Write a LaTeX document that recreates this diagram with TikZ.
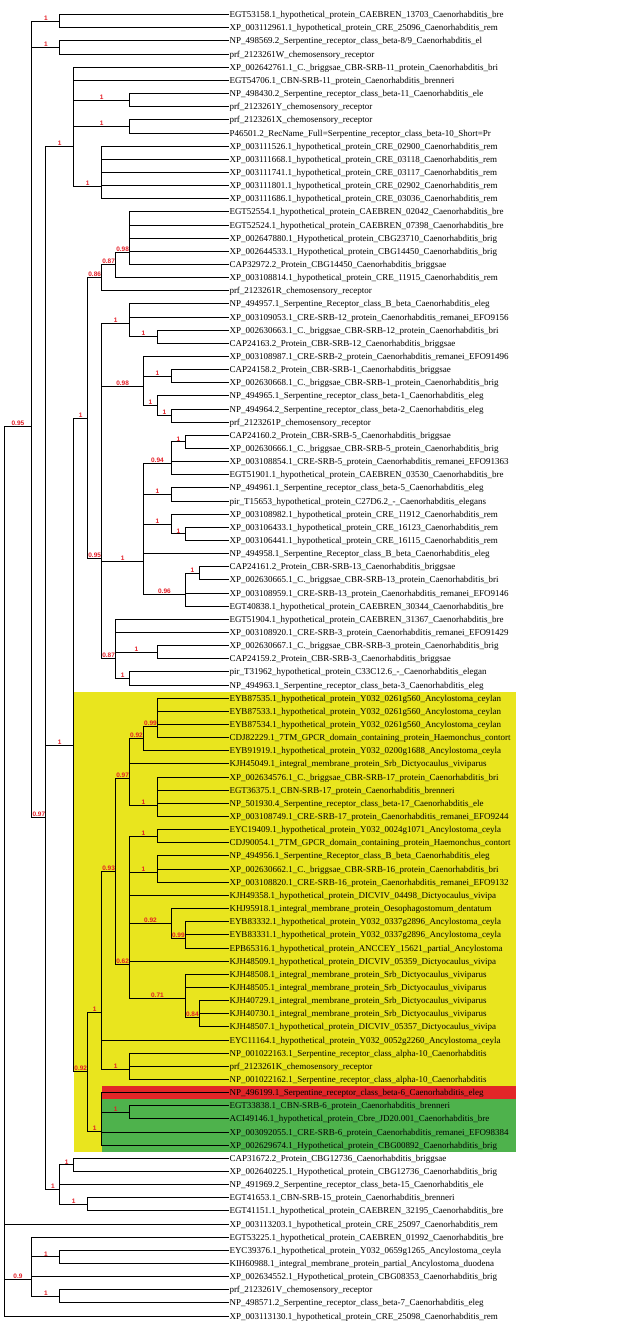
\documentclass[tikz,border=0pt]{standalone}
\usepackage{fontspec}
\setmainfont{Liberation Serif}
\newfontfamily\bsfont{Liberation Sans}
\usepackage{xcolor}
\usepackage{tikz}
\usetikzlibrary{positioning,calc}
\definecolor{bsred}{RGB}{228,30,38}
\definecolor{hlyellow}{RGB}{233,229,30}
\definecolor{hlred}{RGB}{226,38,40}
\definecolor{hlgreen}{RGB}{78,178,76}

\begin{document}
\begin{tikzpicture}[x=1pt,y=-1pt,
    br/.style={line width=1pt, line cap=rect},
    leaf/.style={anchor=west, inner xsep=0.5pt, inner ysep=0pt, text height=6pt, text depth=0pt, font=\fontsize{9}{9}\selectfont},
    bs/.style={pos=0.75, anchor=south, inner sep=0.4pt, text=bsred, font=\bsfont\bfseries\fontsize{6.5}{6.5}\selectfont}]
    \useasboundingbox (0,0) rectangle (617,1334);

    % highlighted clades
    \fill[hlyellow] (73.75,691.7) rectangle (516,1151.7);
    \fill[hlred] (101.65,1086.0) rectangle (516,1099.2);
    \fill[hlgreen] (101.65,1099.2) rectangle (516,1151.7);

    % inner nodes
    \coordinate (root) at (4,1184.06);
    \coordinate (n095) at (31.9,426.04);
    \coordinate (n09) at (31.9,1279.09);
    \coordinate (n097) at (45.85,817.66);
    \coordinate (n12) at (59.8,21.28);
    \coordinate (n34) at (59.8,47.57);
    \coordinate (n8892) at (59.8,1189.54);
    \coordinate (n9596) at (59.8,1256.90);
    \coordinate (n9899) at (59.8,1296.34);
    \coordinate (n515) at (73.75,146.57);
    \coordinate (nB) at (73.75,745.01);
    \coordinate (n8889) at (73.75,1164.89);
    \coordinate (n188) at (87.7,418.11);
    \coordinate (n092c) at (87.7,1071.92);
    \coordinate (n9192) at (87.7,1204.33);
    \coordinate (n1115) at (101.65,186.41);
    \coordinate (n086) at (101.65,277.81);
    \coordinate (n095b) at (101.65,558.40);
    \coordinate (n1102) at (101.65,1012.63);
    \coordinate (nsrb6) at (101.65,1131.20);
    \coordinate (n087) at (115.6,264.87);
    \coordinate (n087b) at (115.6,658.81);
    \coordinate (n093) at (115.6,871.33);
    \coordinate (n78) at (129.55,100.15);
    \coordinate (n910) at (129.55,126.44);
    \coordinate (n098) at (129.55,252.14);
    \coordinate (n2326) at (129.55,323.61);
    \coordinate (n5152) at (129.55,678.53);
    \coordinate (n097b) at (129.55,778.14);
    \coordinate (n062) at (129.55,964.53);
    \coordinate (n8082) at (129.55,1069.59);
    \coordinate (n8485) at (129.55,1112.31);
    \coordinate (n098c) at (143.5,386.05);
    \coordinate (n142) at (143.5,561.15);
    \coordinate (n092) at (143.5,738.50);
    \coordinate (n2526) at (157.45,336.76);
    \coordinate (n3032) at (157.45,405.77);
    \coordinate (n4950) at (157.45,652.24);
    \coordinate (n099) at (157.45,726.18);
    \coordinate (nsrb17) at (157.45,805.05);
    \coordinate (n6364) at (157.45,836.27);
    \coordinate (n6567) at (157.45,872.41);
    \coordinate (n2829) at (171.4,376.19);
    \coordinate (n3132) at (171.4,415.63);
    \coordinate (n094) at (171.4,463.28);
    \coordinate (n3738) at (171.4,494.50);
    \coordinate (n3941) at (171.4,524.07);
    \coordinate (n092b) at (171.4,923.35);
    \coordinate (n3334) at (185.35,441.92);
    \coordinate (n4041) at (185.35,533.93);
    \coordinate (n096) at (185.35,594.73);
    \coordinate (n099b) at (185.35,938.14);
    \coordinate (n071) at (185.35,998.94);
    \coordinate (n4344) at (199.3,573.37);
    \coordinate (n084) at (199.3,1017.01);

    % leaves
    \node[leaf] (l1) at (228.8,14.70) {EGT53158.1\_hypothetical\_protein\_CAEBREN\_13703\_Caenorhabditis\_bre};
    \node[leaf] (l2) at (228.8,27.85) {XP\_003112961.1\_hypothetical\_protein\_CRE\_25096\_Caenorhabditis\_rem};
    \node[leaf] (l3) at (228.8,40.99) {NP\_498569.2\_Serpentine\_receptor\_class\_beta-8/9\_Caenorhabditis\_el};
    \node[leaf] (l4) at (228.8,54.14) {prf\_2123261W\_chemosensory\_receptor};
    \node[leaf] (l5) at (228.8,67.28) {XP\_002642761.1\_C.\_briggsae\_CBR-SRB-11\_protein\_Caenorhabditis\_bri};
    \node[leaf] (l6) at (228.8,80.43) {EGT54706.1\_CBN-SRB-11\_protein\_Caenorhabditis\_brenneri};
    \node[leaf] (l7) at (228.8,93.57) {NP\_498430.2\_Serpentine\_receptor\_class\_beta-11\_Caenorhabditis\_ele};
    \node[leaf] (l8) at (228.8,106.72) {prf\_2123261Y\_chemosensory\_receptor};
    \node[leaf] (l9) at (228.8,119.86) {prf\_2123261X\_chemosensory\_receptor};
    \node[leaf] (l10) at (228.8,133.01) {P46501.2\_RecName\_Full=Serpentine\_receptor\_class\_beta-10\_Short=Pr};
    \node[leaf] (l11) at (228.8,146.15) {XP\_003111526.1\_hypothetical\_protein\_CRE\_02900\_Caenorhabditis\_rem};
    \node[leaf] (l12) at (228.8,159.30) {XP\_003111668.1\_hypothetical\_protein\_CRE\_03118\_Caenorhabditis\_rem};
    \node[leaf] (l13) at (228.8,172.44) {XP\_003111741.1\_hypothetical\_protein\_CRE\_03117\_Caenorhabditis\_rem};
    \node[leaf] (l14) at (228.8,185.59) {XP\_003111801.1\_hypothetical\_protein\_CRE\_02902\_Caenorhabditis\_rem};
    \node[leaf] (l15) at (228.8,198.73) {XP\_003111686.1\_hypothetical\_protein\_CRE\_03036\_Caenorhabditis\_rem};
    \node[leaf] (l16) at (228.8,211.88) {EGT52554.1\_hypothetical\_protein\_CAEBREN\_02042\_Caenorhabditis\_bre};
    \node[leaf] (l17) at (228.8,225.02) {EGT52524.1\_hypothetical\_protein\_CAEBREN\_07398\_Caenorhabditis\_bre};
    \node[leaf] (l18) at (228.8,238.17) {XP\_002647880.1\_Hypothetical\_protein\_CBG23710\_Caenorhabditis\_brig};
    \node[leaf] (l19) at (228.8,251.31) {XP\_002644533.1\_Hypothetical\_protein\_CBG14450\_Caenorhabditis\_brig};
    \node[leaf] (l20) at (228.8,264.46) {CAP32972.2\_Protein\_CBG14450\_Caenorhabditis\_briggsae};
    \node[leaf] (l21) at (228.8,277.60) {XP\_003108814.1\_hypothetical\_protein\_CRE\_11915\_Caenorhabditis\_rem};
    \node[leaf] (l22) at (228.8,290.75) {prf\_2123261R\_chemosensory\_receptor};
    \node[leaf] (l23) at (228.8,303.89) {NP\_494957.1\_Serpentine\_Receptor\_class\_B\_beta\_Caenorhabditis\_eleg};
    \node[leaf] (l24) at (228.8,317.04) {XP\_003109053.1\_CRE-SRB-12\_protein\_Caenorhabditis\_remanei\_EFO9156};
    \node[leaf] (l25) at (228.8,330.18) {XP\_002630663.1\_C.\_briggsae\_CBR-SRB-12\_protein\_Caenorhabditis\_bri};
    \node[leaf] (l26) at (228.8,343.33) {CAP24163.2\_Protein\_CBR-SRB-12\_Caenorhabditis\_briggsae};
    \node[leaf] (l27) at (228.8,356.47) {XP\_003108987.1\_CRE-SRB-2\_protein\_Caenorhabditis\_remanei\_EFO91496};
    \node[leaf] (l28) at (228.8,369.62) {CAP24158.2\_Protein\_CBR-SRB-1\_Caenorhabditis\_briggsae};
    \node[leaf] (l29) at (228.8,382.76) {XP\_002630668.1\_C.\_briggsae\_CBR-SRB-1\_protein\_Caenorhabditis\_brig};
    \node[leaf] (l30) at (228.8,395.91) {NP\_494965.1\_Serpentine\_receptor\_class\_beta-1\_Caenorhabditis\_eleg};
    \node[leaf] (l31) at (228.8,409.05) {NP\_494964.2\_Serpentine\_receptor\_class\_beta-2\_Caenorhabditis\_eleg};
    \node[leaf] (l32) at (228.8,422.20) {prf\_2123261P\_chemosensory\_receptor};
    \node[leaf] (l33) at (228.8,435.34) {CAP24160.2\_Protein\_CBR-SRB-5\_Caenorhabditis\_briggsae};
    \node[leaf] (l34) at (228.8,448.49) {XP\_002630666.1\_C.\_briggsae\_CBR-SRB-5\_protein\_Caenorhabditis\_brig};
    \node[leaf] (l35) at (228.8,461.63) {XP\_003108854.1\_CRE-SRB-5\_protein\_Caenorhabditis\_remanei\_EFO91363};
    \node[leaf] (l36) at (228.8,474.78) {EGT51901.1\_hypothetical\_protein\_CAEBREN\_03530\_Caenorhabditis\_bre};
    \node[leaf] (l37) at (228.8,487.92) {NP\_494961.1\_Serpentine\_receptor\_class\_beta-5\_Caenorhabditis\_eleg};
    \node[leaf] (l38) at (228.8,501.07) {pir\_T15653\_hypothetical\_protein\_C27D6.2\_-\_Caenorhabditis\_elegans};
    \node[leaf] (l39) at (228.8,514.21) {XP\_003108982.1\_hypothetical\_protein\_CRE\_11912\_Caenorhabditis\_rem};
    \node[leaf] (l40) at (228.8,527.36) {XP\_003106433.1\_hypothetical\_protein\_CRE\_16123\_Caenorhabditis\_rem};
    \node[leaf] (l41) at (228.8,540.50) {XP\_003106441.1\_hypothetical\_protein\_CRE\_16115\_Caenorhabditis\_rem};
    \node[leaf] (l42) at (228.8,553.65) {NP\_494958.1\_Serpentine\_Receptor\_class\_B\_beta\_Caenorhabditis\_eleg};
    \node[leaf] (l43) at (228.8,566.79) {CAP24161.2\_Protein\_CBR-SRB-13\_Caenorhabditis\_briggsae};
    \node[leaf] (l44) at (228.8,579.94) {XP\_002630665.1\_C.\_briggsae\_CBR-SRB-13\_protein\_Caenorhabditis\_bri};
    \node[leaf] (l45) at (228.8,593.08) {XP\_003108959.1\_CRE-SRB-13\_protein\_Caenorhabditis\_remanei\_EFO9146};
    \node[leaf] (l46) at (228.8,606.23) {EGT40838.1\_hypothetical\_protein\_CAEBREN\_30344\_Caenorhabditis\_bre};
    \node[leaf] (l47) at (228.8,619.37) {EGT51904.1\_hypothetical\_protein\_CAEBREN\_31367\_Caenorhabditis\_bre};
    \node[leaf] (l48) at (228.8,632.52) {XP\_003108920.1\_CRE-SRB-3\_protein\_Caenorhabditis\_remanei\_EFO91429};
    \node[leaf] (l49) at (228.8,645.66) {XP\_002630667.1\_C.\_briggsae\_CBR-SRB-3\_protein\_Caenorhabditis\_brig};
    \node[leaf] (l50) at (228.8,658.81) {CAP24159.2\_Protein\_CBR-SRB-3\_Caenorhabditis\_briggsae};
    \node[leaf] (l51) at (228.8,671.95) {pir\_T31962\_hypothetical\_protein\_C33C12.6\_-\_Caenorhabditis\_elegan};
    \node[leaf] (l52) at (228.8,685.10) {NP\_494963.1\_Serpentine\_receptor\_class\_beta-3\_Caenorhabditis\_eleg};
    \node[leaf] (l53) at (228.8,698.24) {EYB87535.1\_hypothetical\_protein\_Y032\_0261g560\_Ancylostoma\_ceylan};
    \node[leaf] (l54) at (228.8,711.39) {EYB87533.1\_hypothetical\_protein\_Y032\_0261g560\_Ancylostoma\_ceylan};
    \node[leaf] (l55) at (228.8,724.53) {EYB87534.1\_hypothetical\_protein\_Y032\_0261g560\_Ancylostoma\_ceylan};
    \node[leaf] (l56) at (228.8,737.68) {CDJ82229.1\_7TM\_GPCR\_domain\_containing\_protein\_Haemonchus\_contort};
    \node[leaf] (l57) at (228.8,750.82) {EYB91919.1\_hypothetical\_protein\_Y032\_0200g1688\_Ancylostoma\_ceyla};
    \node[leaf] (l58) at (228.8,763.97) {KJH45049.1\_integral\_membrane\_protein\_Srb\_Dictyocaulus\_viviparus};
    \node[leaf] (l59) at (228.8,777.11) {XP\_002634576.1\_C.\_briggsae\_CBR-SRB-17\_protein\_Caenorhabditis\_bri};
    \node[leaf] (l60) at (228.8,790.26) {EGT36375.1\_CBN-SRB-17\_protein\_Caenorhabditis\_brenneri};
    \node[leaf] (l61) at (228.8,803.40) {NP\_501930.4\_Serpentine\_receptor\_class\_beta-17\_Caenorhabditis\_ele};
    \node[leaf] (l62) at (228.8,816.55) {XP\_003108749.1\_CRE-SRB-17\_protein\_Caenorhabditis\_remanei\_EFO9244};
    \node[leaf] (l63) at (228.8,829.69) {EYC19409.1\_hypothetical\_protein\_Y032\_0024g1071\_Ancylostoma\_ceyla};
    \node[leaf] (l64) at (228.8,842.84) {CDJ90054.1\_7TM\_GPCR\_domain\_containing\_protein\_Haemonchus\_contort};
    \node[leaf] (l65) at (228.8,855.98) {NP\_494956.1\_Serpentine\_Receptor\_class\_B\_beta\_Caenorhabditis\_eleg};
    \node[leaf] (l66) at (228.8,869.13) {XP\_002630662.1\_C.\_briggsae\_CBR-SRB-16\_protein\_Caenorhabditis\_bri};
    \node[leaf] (l67) at (228.8,882.27) {XP\_003108820.1\_CRE-SRB-16\_protein\_Caenorhabditis\_remanei\_EFO9132};
    \node[leaf] (l68) at (228.8,895.42) {KJH49358.1\_hypothetical\_protein\_DICVIV\_04498\_Dictyocaulus\_vivipa};
    \node[leaf] (l69) at (228.8,908.56) {KHJ95918.1\_integral\_membrane\_protein\_Oesophagostomum\_dentatum};
    \node[leaf] (l70) at (228.8,921.71) {EYB83332.1\_hypothetical\_protein\_Y032\_0337g2896\_Ancylostoma\_ceyla};
    \node[leaf] (l71) at (228.8,934.85) {EYB83331.1\_hypothetical\_protein\_Y032\_0337g2896\_Ancylostoma\_ceyla};
    \node[leaf] (l72) at (228.8,948.00) {EPB65316.1\_hypothetical\_protein\_ANCCEY\_15621\_partial\_Ancylostoma};
    \node[leaf] (l73) at (228.8,961.14) {KJH48509.1\_hypothetical\_protein\_DICVIV\_05359\_Dictyocaulus\_vivipa};
    \node[leaf] (l74) at (228.8,974.29) {KJH48508.1\_integral\_membrane\_protein\_Srb\_Dictyocaulus\_viviparus};
    \node[leaf] (l75) at (228.8,987.43) {KJH48505.1\_integral\_membrane\_protein\_Srb\_Dictyocaulus\_viviparus};
    \node[leaf] (l76) at (228.8,1000.58) {KJH40729.1\_integral\_membrane\_protein\_Srb\_Dictyocaulus\_viviparus};
    \node[leaf] (l77) at (228.8,1013.72) {KJH40730.1\_integral\_membrane\_protein\_Srb\_Dictyocaulus\_viviparus};
    \node[leaf] (l78) at (228.8,1026.87) {KJH48507.1\_hypothetical\_protein\_DICVIV\_05357\_Dictyocaulus\_vivipa};
    \node[leaf] (l79) at (228.8,1040.01) {EYC11164.1\_hypothetical\_protein\_Y032\_0052g2260\_Ancylostoma\_ceyla};
    \node[leaf] (l80) at (228.8,1053.16) {NP\_001022163.1\_Serpentine\_receptor\_class\_alpha-10\_Caenorhabditis};
    \node[leaf] (l81) at (228.8,1066.30) {prf\_2123261K\_chemosensory\_receptor};
    \node[leaf] (l82) at (228.8,1079.45) {NP\_001022162.1\_Serpentine\_receptor\_class\_alpha-10\_Caenorhabditis};
    \node[leaf] (l83) at (228.8,1092.59) {NP\_496199.1\_Serpentine\_receptor\_class\_beta-6\_Caenorhabditis\_eleg};
    \node[leaf] (l84) at (228.8,1105.74) {EGT33838.1\_CBN-SRB-6\_protein\_Caenorhabditis\_brenneri};
    \node[leaf] (l85) at (228.8,1118.88) {ACI49146.1\_hypothetical\_protein\_Cbre\_JD20.001\_Caenorhabditis\_bre};
    \node[leaf] (l86) at (228.8,1132.03) {XP\_003092055.1\_CRE-SRB-6\_protein\_Caenorhabditis\_remanei\_EFO98384};
    \node[leaf] (l87) at (228.8,1145.17) {XP\_002629674.1\_Hypothetical\_protein\_CBG00892\_Caenorhabditis\_brig};
    \node[leaf] (l88) at (228.8,1158.32) {CAP31672.2\_Protein\_CBG12736\_Caenorhabditis\_briggsae};
    \node[leaf] (l89) at (228.8,1171.46) {XP\_002640225.1\_Hypothetical\_protein\_CBG12736\_Caenorhabditis\_brig};
    \node[leaf] (l90) at (228.8,1184.61) {NP\_491969.2\_Serpentine\_receptor\_class\_beta-15\_Caenorhabditis\_ele};
    \node[leaf] (l91) at (228.8,1197.75) {EGT41653.1\_CBN-SRB-15\_protein\_Caenorhabditis\_brenneri};
    \node[leaf] (l92) at (228.8,1210.90) {EGT41151.1\_hypothetical\_protein\_CAEBREN\_32195\_Caenorhabditis\_bre};
    \node[leaf] (l93) at (228.8,1224.04) {XP\_003113203.1\_hypothetical\_protein\_CRE\_25097\_Caenorhabditis\_rem};
    \node[leaf] (l94) at (228.8,1237.19) {EGT53225.1\_hypothetical\_protein\_CAEBREN\_01992\_Caenorhabditis\_bre};
    \node[leaf] (l95) at (228.8,1250.33) {EYC39376.1\_hypothetical\_protein\_Y032\_0659g1265\_Ancylostoma\_ceyla};
    \node[leaf] (l96) at (228.8,1263.48) {KIH60988.1\_integral\_membrane\_protein\_partial\_Ancylostoma\_duodena};
    \node[leaf] (l97) at (228.8,1276.62) {XP\_002634552.1\_Hypothetical\_protein\_CBG08353\_Caenorhabditis\_brig};
    \node[leaf] (l98) at (228.8,1289.77) {prf\_2123261V\_chemosensory\_receptor};
    \node[leaf] (l99) at (228.8,1302.91) {NP\_498571.2\_Serpentine\_receptor\_class\_beta-7\_Caenorhabditis\_eleg};
    \node[leaf] (l100) at (228.8,1316.06) {XP\_003113130.1\_hypothetical\_protein\_CRE\_25098\_Caenorhabditis\_rem};

    % branches
    \draw[br] (root) |- node[bs]{0.95} (n095) (root) |- (l93) (root) |- node[bs]{0.9} (n09) (root) |- (l100);
    \draw[br] (n095) |- node[bs]{1} (n12) (n095) |- node[bs]{1} (n34) (n095) |- node[bs]{0.97} (n097);
    \draw[br] (n12) |- (l1) (n12) |- (l2);
    \draw[br] (n34) |- (l3) (n34) |- (l4);
    \draw[br] (n097) |- node[bs]{1} (n515) (n097) |- node[bs]{1} (nB) (n097) |- node[bs]{1} (n8892);
    \draw[br] (n515) |- (l5) (n515) |- (l6) (n515) |- node[bs]{1} (n78) (n515) |- node[bs]{1} (n910) (n515) |- node[bs]{1} (n1115);
    \draw[br] (n78) |- (l7) (n78) |- (l8);
    \draw[br] (n910) |- (l9) (n910) |- (l10);
    \draw[br] (n1115) |- (l11) (n1115) |- (l12) (n1115) |- (l13) (n1115) |- (l14) (n1115) |- (l15);
    \draw[br] (nB) |- node[bs]{1} (n188) (nB) |- node[bs]{0.92} (n092c);
    \draw[br] (n188) |- node[bs]{0.86} (n086) (n188) |- node[bs]{0.95} (n095b);
    \draw[br] (n086) |- node[bs]{0.87} (n087) (n086) |- (l22);
    \draw[br] (n087) |- node[bs]{0.98} (n098) (n087) |- (l21);
    \draw[br] (n098) |- (l16) (n098) |- (l17) (n098) |- (l18) (n098) |- (l19) (n098) |- (l20);
    \draw[br] (n095b) |- node[bs]{1} (n2326) (n095b) |- node[bs]{0.98} (n098c) (n095b) |- node[bs]{1} (n142) (n095b) |- node[bs]{0.87} (n087b);
    \draw[br] (n2326) |- (l23) (n2326) |- (l24) (n2326) |- node[bs]{1} (n2526);
    \draw[br] (n2526) |- (l25) (n2526) |- (l26);
    \draw[br] (n098c) |- (l27) (n098c) |- node[bs]{1} (n2829) (n098c) |- node[bs]{1} (n3032);
    \draw[br] (n2829) |- (l28) (n2829) |- (l29);
    \draw[br] (n3032) |- (l30) (n3032) |- node[bs]{1} (n3132);
    \draw[br] (n3132) |- (l31) (n3132) |- (l32);
    \draw[br] (n142) |- node[bs]{0.94} (n094) (n142) |- node[bs]{1} (n3738) (n142) |- node[bs]{1} (n3941) (n142) |- (l42) (n142) |- node[bs]{0.96} (n096);
    \draw[br] (n094) |- node[bs]{1} (n3334) (n094) |- (l35) (n094) |- (l36);
    \draw[br] (n3334) |- (l33) (n3334) |- (l34);
    \draw[br] (n3738) |- (l37) (n3738) |- (l38);
    \draw[br] (n3941) |- (l39) (n3941) |- node[bs]{1} (n4041);
    \draw[br] (n4041) |- (l40) (n4041) |- (l41);
    \draw[br] (n096) |- node[bs]{1} (n4344) (n096) |- (l45) (n096) |- (l46);
    \draw[br] (n4344) |- (l43) (n4344) |- (l44);
    \draw[br] (n087b) |- (l47) (n087b) |- (l48) (n087b) |- node[bs]{1} (n4950) (n087b) |- node[bs]{1} (n5152);
    \draw[br] (n4950) |- (l49) (n4950) |- (l50);
    \draw[br] (n5152) |- (l51) (n5152) |- (l52);
    % yellow clade
    \draw[br] (n092c) |- node[bs]{1} (n1102) (n092c) |- node[bs]{1} (nsrb6);
    \draw[br] (n1102) |- node[bs]{0.93} (n093) (n1102) |- (l79) (n1102) |- node[bs]{1} (n8082);
    \draw[br] (n093) |- node[bs]{0.97} (n097b) (n093) |- node[bs]{0.62} (n062);
    \draw[br] (n097b) |- node[bs]{0.92} (n092) (n097b) |- (l58) (n097b) |- node[bs]{1} (nsrb17);
    \draw[br] (n092) |- node[bs]{0.99} (n099) (n092) |- (l57);
    \draw[br] (n099) |- (l53) (n099) |- (l54) (n099) |- (l55) (n099) |- (l56);
    \draw[br] (nsrb17) |- (l59) (nsrb17) |- (l60) (nsrb17) |- (l61) (nsrb17) |- (l62);
    \draw[br] (n062) |- node[bs]{1} (n6364) (n062) |- node[bs]{1} (n6567) (n062) |- (l68) (n062) |- node[bs]{0.92} (n092b) (n062) |- (l73) (n062) |- node[bs]{0.71} (n071);
    \draw[br] (n6364) |- (l63) (n6364) |- (l64);
    \draw[br] (n6567) |- (l65) (n6567) |- (l66) (n6567) |- (l67);
    \draw[br] (n092b) |- (l69) (n092b) |- node[bs]{0.99} (n099b);
    \draw[br] (n099b) |- (l70) (n099b) |- (l71) (n099b) |- (l72);
    \draw[br] (n071) |- (l74) (n071) |- (l75) (n071) |- node[bs]{0.84} (n084);
    \draw[br] (n084) |- (l76) (n084) |- (l77) (n084) |- (l78);
    \draw[br] (n8082) |- (l80) (n8082) |- (l81) (n8082) |- (l82);
    \draw[br] (nsrb6) |- (l83) (nsrb6) |- node[bs]{1} (n8485) (nsrb6) |- (l86) (nsrb6) |- (l87); % srb-6 group
    \draw[br] (n8485) |- (l84) (n8485) |- (l85);
    % lower groups
    \draw[br] (n8892) |- node[bs]{1} (n8889) (n8892) |- (l90) (n8892) |- node[bs]{1} (n9192);
    \draw[br] (n8889) |- (l88) (n8889) |- (l89);
    \draw[br] (n9192) |- (l91) (n9192) |- (l92);
    \draw[br] (n09) |- (l94) (n09) |- node[bs]{1} (n9596) (n09) |- (l97) (n09) |- node[bs]{1} (n9899);
    \draw[br] (n9596) |- (l95) (n9596) |- (l96);
    \draw[br] (n9899) |- (l98) (n9899) |- (l99);
\end{tikzpicture}
\end{document}
